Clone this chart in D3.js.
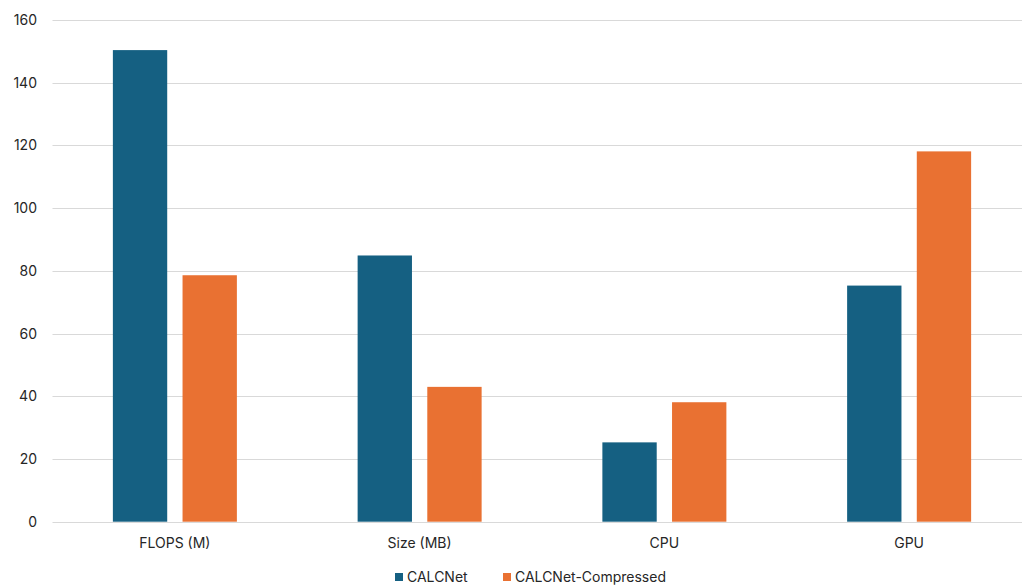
<!DOCTYPE html>
<html>
<head>
<meta charset="utf-8">
<script src="https://cdn.jsdelivr.net/npm/d3@7"></script>
<style>
  html, body { margin: 0; padding: 0; background: #ffffff; }
  svg { display: block; font-family: "Inter", "Open Sans", sans-serif; }
</style>
</head>
<body>
<svg id="chart" width="1022" height="585"></svg>
<script>
const categories = ["FLOPS (M)", "Size (MB)", "CPU", "GPU"];
const seriesNames = ["CALCNet", "CALCNet-Compressed"];
const calcnet = [150.4, 84.9, 25.3, 75.3];
const calcnetCompressed = [78.6, 43.0, 38.1, 118.1];
const yTicks = [0, 20, 40, 60, 80, 100, 120, 140, 160];
const colors = ["#156082", "#E97132"];

const svg = d3.select("#chart");
const margin = { left: 52.5, right: -9.5, top: 20, bottom: 63.3 };
const W = 1022, H = 585;

const x0 = d3.scaleBand()
  .domain(categories)
  .range([margin.left, W - margin.right])
  .paddingInner(0).paddingOuter(0);

const groupWidth = 124;
const x1 = d3.scaleBand()
  .domain(seriesNames)
  .range([0, groupWidth])
  .paddingInner(0.22);

const y = d3.scaleLinear()
  .domain([0, 160])
  .range([H - margin.bottom, margin.top]);

// horizontal gridlines
svg.append("g")
  .selectAll("line")
  .data(yTicks)
  .join("line")
  .attr("x1", margin.left)
  .attr("x2", W)
  .attr("y1", d => Math.round(y(d)) + 0.5)
  .attr("y2", d => Math.round(y(d)) + 0.5)
  .attr("stroke", "#d9d9d9")
  .attr("stroke-width", 1);

// y-axis labels
const yAxis = d3.axisLeft(y).tickValues(yTicks).tickSize(0).tickPadding(0);
svg.append("g")
  .attr("transform", `translate(37,0)`)
  .call(yAxis)
  .call(g => g.select(".domain").remove())
  .call(g => g.selectAll("text")
    .attr("fill", "#262626")
    .style("font-size", "14px")
    .style("font-family", "Inter, 'Open Sans', sans-serif"));

// bars
const rows = categories.map((c, i) => ({ cat: c, vals: [calcnet[i], calcnetCompressed[i]] }));
const groups = svg.append("g")
  .selectAll("g")
  .data(rows)
  .join("g")
  .attr("transform", d => `translate(${x0(d.cat) + (x0.bandwidth() - groupWidth) / 2},0)`);

groups.selectAll("rect")
  .data(d => d.vals.map((v, k) => ({ name: seriesNames[k], v, k })))
  .join("rect")
  .attr("x", d => x1(d.name))
  .attr("width", x1.bandwidth())
  .attr("y", d => y(d.v))
  .attr("height", d => y(0) - y(d.v))
  .attr("fill", d => colors[d.k]);

// category labels
const xAxis = d3.axisBottom(x0).tickSize(0).tickPadding(0);
svg.append("g")
  .attr("transform", `translate(0,${y(0) + 16})`)
  .call(xAxis)
  .call(g => g.select(".domain").remove())
  .call(g => g.selectAll("text")
    .attr("fill", "#262626")
    .style("font-size", "14px")
    .style("font-family", "Inter, 'Open Sans', sans-serif"));

// legend
const legendItems = [
  { name: seriesNames[0], color: colors[0], x: 395 },
  { name: seriesNames[1], color: colors[1], x: 503 }
];
const legend = svg.append("g");
legendItems.forEach(it => {
  legend.append("rect")
    .attr("x", it.x).attr("y", 573)
    .attr("width", 8).attr("height", 8)
    .attr("fill", it.color);
  legend.append("text")
    .attr("x", it.x + 12).attr("y", 582)
    .attr("fill", "#262626")
    .style("font-size", "14px")
    .text(it.name);
});
</script>
</body>
</html>
